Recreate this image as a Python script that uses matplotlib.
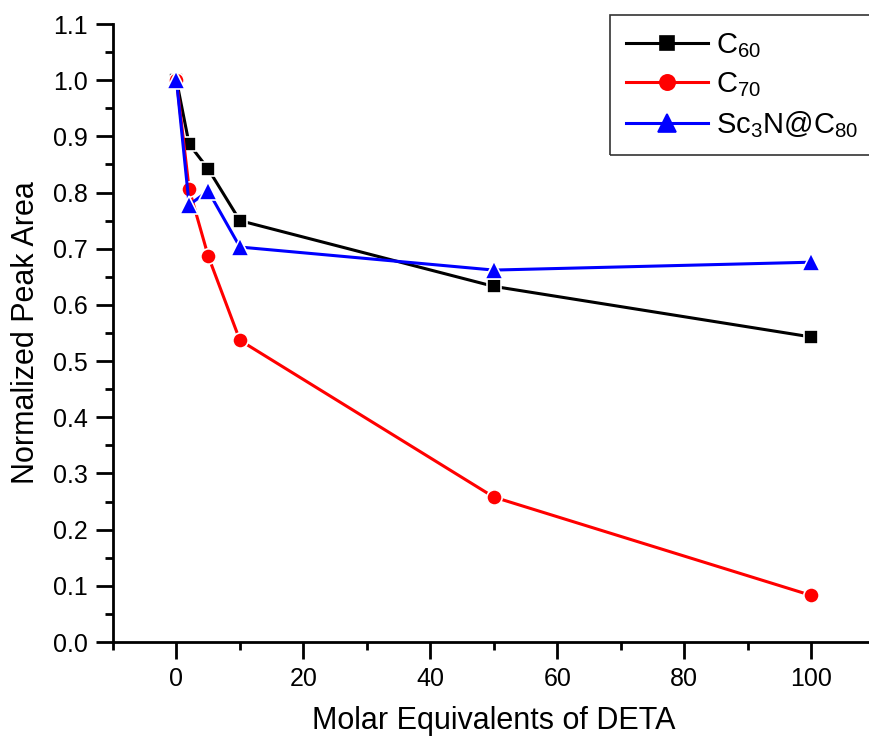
import matplotlib
matplotlib.use("Agg")
import matplotlib.pyplot as plt
from matplotlib.patches import Rectangle
from matplotlib.ticker import MultipleLocator

plt.rcParams['font.family'] = ['Liberation Sans', 'DejaVu Sans']
plt.rcParams['mathtext.fontset'] = 'custom'
plt.rcParams['mathtext.rm'] = 'Liberation Sans'
plt.rcParams['mathtext.it'] = 'Liberation Sans'

# DETA equivalents and normalized peak areas
deta = [0, 2, 5, 10, 50, 100]
c60 = [1.000, 0.886, 0.842, 0.750, 0.633, 0.543]
c70 = [1.000, 0.806, 0.687, 0.537, 0.258, 0.083]
sc3n_c80 = [1.000, 0.778, 0.803, 0.703, 0.662, 0.676]

series = [
    (c60, r'C$_{60}$', 'black', 's', 9.5),
    (c70, r'C$_{70}$', 'red', 'o', 11),
    (sc3n_c80, r'Sc$_3$N@C$_{80}$', 'blue', '^', 13),
]

W, H = 870, 738
fig = plt.figure(figsize=(W / 100, H / 100), dpi=100)
ax = fig.add_axes([113 / W, 1 - 642 / H, (874.5 - 113) / W, (642 - 24) / H])

for vals, lab, col, mk, ms in series:
    ax.plot(deta, vals, color=col, lw=2.2, marker=mk, ms=ms,
            mfc=col, mec='white', mew=1.2, label=lab)

ax.set_xlim(-10, 110)
ax.set_ylim(0, 1.1)
ax.xaxis.set_major_locator(MultipleLocator(20))
ax.xaxis.set_minor_locator(MultipleLocator(10))
ax.yaxis.set_major_locator(MultipleLocator(0.1))
ax.yaxis.set_minor_locator(MultipleLocator(0.05))
ax.yaxis.set_major_formatter(plt.FormatStrFormatter('%.1f'))

for s in ('top', 'right'):
    ax.spines[s].set_visible(False)
for s in ('left', 'bottom'):
    ax.spines[s].set_linewidth(2)

ax.tick_params(which='major', direction='out', length=12, width=2,
               labelsize=18, pad=6)
ax.tick_params(which='minor', direction='out', length=6, width=2)

ax.set_xlabel('Molar Equivalents of DETA', fontsize=22)
ax.set_ylabel('Normalized Peak Area', fontsize=22)
ax.xaxis.set_label_coords(0.5, -0.104)
ax.yaxis.set_label_coords(-0.094, 0.5)

leg = ax.legend(loc='upper left', bbox_to_anchor=(610 / W, 1 - 15 / H),
                bbox_transform=fig.transFigure, fontsize=21, frameon=False,
                handlelength=2.8, handletextpad=0.3,
                labelspacing=0.36, borderpad=0.55, borderaxespad=0)
for h in leg.legend_handles:
    h.set_markeredgecolor(h.get_color())

# legend box, running past the right edge of the canvas
fig.patches.append(Rectangle((610 / W, 1 - 155 / H), 280 / W, 140 / H,
                             transform=fig.transFigure, fill=False,
                             edgecolor='#333333', lw=1.2))

fig.savefig('out.png', dpi=100)
